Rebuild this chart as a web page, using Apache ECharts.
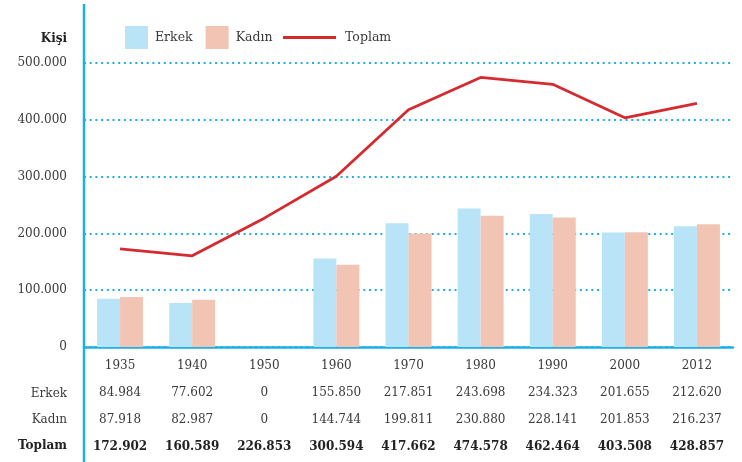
<!DOCTYPE html>
<html>
<head>
<meta charset="utf-8">
<script src="https://cdn.jsdelivr.net/npm/echarts@6/dist/echarts.min.js"></script>
<style>
  html, body { margin: 0; padding: 0; background: #fff; }
  #chart { width: 742px; height: 462px; }
</style>
</head>
<body>
<div id="chart"></div>
<script>
// Nüfus: yıllara göre erkek, kadın ve toplam
const years = ['1935', '1940', '1950', '1960', '1970', '1980', '1990', '2000', '2012'];
const erkek = [84984, 77602, 0, 155850, 217851, 243698, 234323, 201655, 212620];
const kadin = [87918, 82987, 0, 144744, 199811, 230880, 228141, 201853, 216237];
const toplam = [172902, 160589, 226853, 300594, 417662, 474578, 462464, 403508, 428857];
const yTicks = [0, 100000, 200000, 300000, 400000, 500000];

const FONT = 'DejaVu Serif';
const TEXT = '#3a3a3a';
const BLUE = '#1cb0ea';

// Turkish-style thousands separator (dot)
const fmt = v => String(v).replace(/\B(?=(\d{3})+(?!\d))/g, '.');

const chart = echarts.init(document.getElementById('chart'));
chart.setOption({
  animation: false,
  textStyle: { fontFamily: FONT, color: TEXT },
  grid: { left: 84, right: 9, top: 63, bottom: 115, containLabel: false },
  legend: [
    {
      data: [{ name: 'Erkek', icon: 'rect' }, { name: 'Kadın', icon: 'rect' }],
      left: 125, top: 26, padding: 0,
      itemWidth: 23, itemHeight: 23, itemGap: 13,
      textStyle: { fontFamily: FONT, fontSize: 12.5, color: TEXT, padding: [0, 0, 0, 2] }
    },
    {
      data: [{ name: 'Toplam', icon: 'rect' }],
      left: 283, top: 26, padding: 0,
      itemWidth: 53, itemHeight: 3,
      textStyle: { fontFamily: FONT, fontSize: 12.5, color: TEXT, padding: [0, 0, 0, 4], lineHeight: 23 }
    }
  ],
  xAxis: {
    type: 'category',
    data: years,
    axisLine: { show: true, lineStyle: { color: BLUE, width: 2.5 } },
    axisTick: { show: false },
    axisLabel: {
      margin: 6,
      interval: 0,
      formatter: (v, i) =>
        '{y|' + v + '}\n{n|' + fmt(erkek[i]) + '}\n{n|' + fmt(kadin[i]) + '}\n{b|' + fmt(toplam[i]) + '}',
      rich: {
        y: { fontFamily: FONT, fontSize: 12, color: TEXT, lineHeight: 26.7 },
        n: { fontFamily: FONT, fontSize: 12, color: TEXT, lineHeight: 26.7 },
        b: { fontFamily: FONT, fontSize: 12, fontWeight: 'bold', color: '#222', lineHeight: 26.7 }
      }
    }
  },
  yAxis: {
    type: 'value',
    min: 0, max: 500000, interval: 100000,
    axisLine: { show: false },
    axisTick: { show: false },
    axisLabel: {
      margin: 17,
      fontFamily: FONT, fontSize: 12, color: TEXT,
      formatter: v => yTicks.includes(v) ? fmt(v) : ''
    },
    splitLine: {
      show: true,
      lineStyle: { color: BLUE, width: 2, type: [2, 3.7] }
    }
  },
  series: [
    {
      name: 'Erkek', type: 'bar', data: erkek,
      barWidth: 23, barGap: '0%',
      itemStyle: { color: '#b9e4f8' }
    },
    {
      name: 'Kadın', type: 'bar', data: kadin,
      barWidth: 23, barGap: '0%',
      itemStyle: { color: '#f2c4b4' }
    },
    {
      name: 'Toplam', type: 'line', data: toplam,
      symbol: 'none', showSymbol: false,
      lineStyle: { color: '#d42a30', width: 2.8 },
      itemStyle: { color: '#d42a30' },
      z: 5
    }
  ],
  graphic: [
    // vertical axis line spanning the full height, including the table rows
    { type: 'line', shape: { x1: 84, y1: 4, x2: 84, y2: 462 }, style: { stroke: BLUE, lineWidth: 2.5 }, z: 10 },
    { type: 'text', right: 742 - 67, top: 33, style: { text: 'Kişi', font: 'bold 12px "DejaVu Serif"', fill: '#222' } },
    { type: 'text', right: 742 - 67, top: 388, style: { text: 'Erkek', font: '12px "DejaVu Serif"', fill: TEXT } },
    { type: 'text', right: 742 - 67, top: 414, style: { text: 'Kadın', font: '12px "DejaVu Serif"', fill: TEXT } },
    { type: 'text', right: 742 - 67, top: 440, style: { text: 'Toplam', font: 'bold 12px "DejaVu Serif"', fill: '#222' } }
  ]
});
</script>
</body>
</html>
